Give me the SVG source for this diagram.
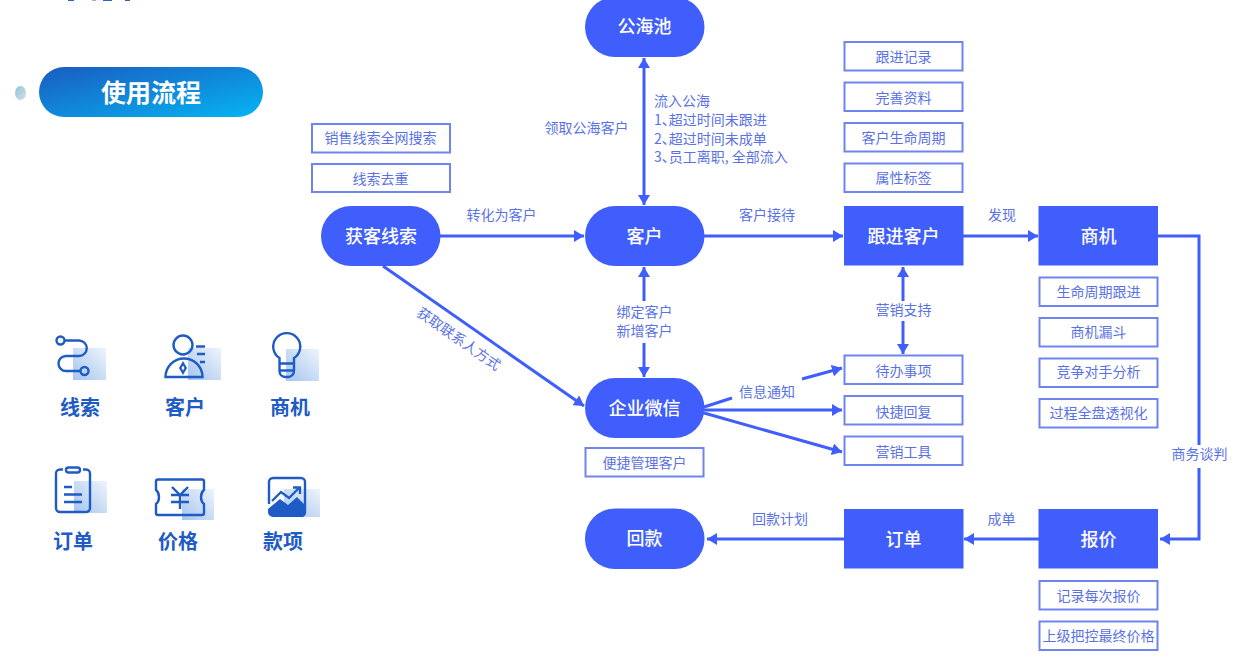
<svg xmlns="http://www.w3.org/2000/svg" width="1236" height="660" viewBox="0 0 1236 660">
<style>
text{font-family:"Noto Sans CJK SC","Noto Sans",sans-serif}
.n{fill:#3f5efb}
.nt{fill:#fff;font-size:18px;font-weight:500;text-anchor:middle}
.b{fill:#fff;stroke:#6f84ee;stroke-width:2}
.bt{fill:#5a72e4;font-size:14px;text-anchor:middle}
.l{fill:#5a72e4;font-size:14px;text-anchor:middle}
.s{text-anchor:start}
.p{font-feature-settings:"halt"}
.c{fill:none;stroke:#3f5efb;stroke-width:3}
.i{fill:none;stroke:#1f5bc4;stroke-width:2.400}
.il{fill:#1f5bc4;font-size:20px;font-weight:700;text-anchor:middle}
</style>
<defs>
<marker id="a" markerUnits="userSpaceOnUse" markerWidth="12" markerHeight="12" refX="10" refY="6" orient="auto-start-reverse"><path d="M0 0L10 6L0 12Z" fill="#3f5efb"/></marker>
<linearGradient id="pill" x1="0" y1="0" x2="1" y2="1"><stop offset="0" stop-color="#1a5cc0"/><stop offset="1" stop-color="#06b4f4"/></linearGradient>
<linearGradient id="dot" x1="0" y1="0" x2="1" y2="1"><stop offset="0" stop-color="#8cc8da"/><stop offset="1" stop-color="#d8dde4"/></linearGradient>
<linearGradient id="sq" x1="1" y1="0" x2="0" y2="1"><stop offset="0" stop-color="#eef4fc"/><stop offset="1" stop-color="#a6c5ef"/></linearGradient>
</defs>
<rect width="1236" height="660" fill="#fff"/>

<g id="clipped-heading" fill="#2f62cc"><rect x="68" y="0" width="6" height="1"/><rect x="92" y="0" width="4" height="1" opacity=".5"/><rect x="103" y="0" width="9" height="1"/><rect x="125" y="0" width="5" height="1"/></g>

<g id="title">
<ellipse cx="20.500" cy="93" rx="5.500" ry="7" fill="url(#dot)"/>
<rect x="39" y="67" width="224" height="50" rx="25" fill="url(#pill)"/>
<text x="151" y="102" fill="#fff" font-size="25" font-weight="700" text-anchor="middle">使用流程</text>
</g>

<g id="legend-xiansuo">
<rect x="73" y="348" width="33" height="32" fill="url(#sq)"/>
<circle class="i" cx="60.500" cy="340.500" r="4"/><circle class="i" cx="84.500" cy="371" r="4"/>
<path class="i" d="M64.500 340.500H79A7.750 7.750 0 0 1 79 356H66A7.500 7.500 0 0 0 66 371H80.500"/>
<text class="il" x="80" y="415">线索</text>
</g>
<g id="legend-kehu">
<rect x="188" y="348" width="33" height="32" fill="url(#sq)"/>
<circle class="i" cx="183" cy="345" r="9.500"/>
<path class="i" d="M165.500 377A18.500 18.500 0 0 1 202.500 377Z"/>
<path d="M183 361L187 368L183 375L179 368Z" fill="#1f5bc4"/><path d="M183 365.500L184.500 368L183 370.500L181.500 368Z" fill="#fff"/>
<path class="i" d="M196 346.500H205M197 354H205M200 362H205"/>
<text class="il" x="185" y="415">客户</text>
</g>
<g id="legend-shangji">
<rect x="286" y="349" width="33" height="32" fill="url(#sq)"/>
<path class="i" d="M279.500 358A13.500 13.500 0 1 1 294 358V371A6 6 0 0 1 288 377H285A6 6 0 0 1 279.500 371ZM279.500 363.500H294M279.500 370.500H294"/>
<text class="il" x="290" y="415">商机</text>
</g>
<g id="legend-dingdan">
<rect x="74" y="481" width="33" height="32" fill="url(#sq)"/>
<path class="i" d="M63 469.500H60A4 4 0 0 0 56 473.500V508A4 4 0 0 0 60 512H86A4 4 0 0 0 90 508V473.500A4 4 0 0 0 86 469.500H83"/>
<rect class="i" x="66" y="467.500" width="14" height="5" rx="2.500"/>
<path class="i" d="M64 487H72M64 494.500H82M64 502H82"/>
<text class="il" x="73" y="549">订单</text>
</g>
<g id="legend-jiage">
<rect x="182" y="489" width="32" height="31" fill="url(#sq)"/>
<path class="i" d="M158 479.500H202A2 2 0 0 1 204 481.500V490C200 493 200 501 204 504V513A2 2 0 0 1 202 515H158A2 2 0 0 1 156 513V504C160 501 160 493 156 490V481.500A2 2 0 0 1 158 479.500Z"/>
<path class="i" d="M172 487L180 495L188 487M171 495H189M171 502H189M180 495V509"/>
<text class="il" x="178" y="549">价格</text>
</g>
<g id="legend-kuanxiang">
<rect x="284" y="489" width="36" height="28" fill="url(#sq)"/>
<path class="i" d="M269 504V482A4 4 0 0 1 273 478H301A4 4 0 0 1 305 482V512A4 4 0 0 1 301 516"/>
<path d="M268 509L280 499L288 505L297 497L306 506V512A5 5 0 0 1 301 517H273A5 5 0 0 1 268 512Z" fill="#1f5bc4"/>
<path class="i" d="M272 501L281 492L289 498L299 488M293 487.500H300V494"/>
<text class="il" x="283" y="549">款项</text>
</g>

<g id="connectors">
<path class="c" marker-start="url(#a)" marker-end="url(#a)" d="M644 58V205"/>
<path class="c" marker-end="url(#a)" d="M440 236H584"/>
<path class="c" marker-end="url(#a)" d="M704 236H843"/>
<path class="c" marker-end="url(#a)" d="M963 236H1038"/>
<path class="c" d="M1158 236H1199V445"/>
<path class="c" marker-end="url(#a)" d="M1199 468V539H1160"/>
<path class="c" marker-end="url(#a)" d="M1039 539H964"/>
<path class="c" marker-end="url(#a)" d="M844 539H707"/>
<path class="c" marker-end="url(#a)" d="M383 266L584 406"/>
<path class="c" marker-end="url(#a)" d="M644 301V267"/>
<path class="c" marker-end="url(#a)" d="M644 343V377"/>
<path class="c" marker-end="url(#a)" d="M903 301V267"/>
<path class="c" marker-end="url(#a)" d="M903 321V354"/>
<path class="c" d="M704 407L732 398"/>
<path class="c" marker-end="url(#a)" d="M802 379L842 368"/>
<path class="c" marker-end="url(#a)" d="M704 410H842"/>
<path class="c" marker-end="url(#a)" d="M704 413L842 452"/>
</g>

<g id="connector-labels">
<text class="l" x="586.500" y="133">领取公海客户</text>
<text class="l s" x="654" y="106">流入公海</text>
<text class="l s p" x="654" y="125">1、超过时间未跟进</text>
<text class="l s p" x="654" y="144">2、超过时间未成单</text>
<text class="l s p" x="654" y="162">3、员工离职, 全部流入</text>
<text class="l" x="501.500" y="220">转化为客户</text>
<text class="l" x="767" y="220">客户接待</text>
<text class="l" x="1002" y="220">发现</text>
<text class="l" x="644.500" y="317">绑定客户</text>
<text class="l" x="644.500" y="336">新增客户</text>
<text class="l" x="903.500" y="315">营销支持</text>
<text class="l" x="767" y="397">信息通知</text>
<text class="l" x="1199.500" y="459">商务谈判</text>
<text class="l" x="780" y="524">回款计划</text>
<text class="l" x="1001.500" y="524">成单</text>
<text class="l" transform="translate(456 343) rotate(35)">获取联系人方式</text>
</g>

<g id="gonghaichi"><rect class="n" x="585" y="-3" width="119.500" height="60" rx="30"/><text class="nt" x="644.500" y="33">公海池</text></g>
<g id="kehu"><rect class="n" x="585" y="206" width="119.500" height="60" rx="30"/><text class="nt" x="644.500" y="242.500">客户</text></g>
<g id="huoke"><rect class="n" x="321" y="206" width="119.500" height="60" rx="30"/><text class="nt" x="381" y="242.500">获客线索</text></g>
<g id="qiwei"><rect class="n" x="585" y="378" width="119.500" height="60" rx="30"/><text class="nt" x="644.500" y="414.500">企业微信</text></g>
<g id="huikuan"><rect class="n" x="585" y="508.500" width="119.500" height="60.500" rx="30"/><text class="nt" x="644.500" y="545">回款</text></g>
<g id="genjin"><rect class="n" x="844" y="206" width="119.500" height="59.500"/><text class="nt" x="903.500" y="242.500">跟进客户</text></g>
<g id="shangji"><rect class="n" x="1038.500" y="206" width="119.500" height="59.500"/><text class="nt" x="1098.500" y="242.500">商机</text></g>
<g id="dingdan"><rect class="n" x="844" y="509" width="119.500" height="59.500"/><text class="nt" x="903.500" y="545.500">订单</text></g>
<g id="baojia"><rect class="n" x="1038.500" y="509" width="119.500" height="59.500"/><text class="nt" x="1098.500" y="545.500">报价</text></g>

<g id="box-xsqwss"><rect class="b" x="312" y="124" width="138" height="28.500"/><text class="bt" x="380.500" y="143">销售线索全网搜索</text></g>
<g id="box-xsqc"><rect class="b" x="312" y="164" width="138" height="28"/><text class="bt" x="380.500" y="184">线索去重</text></g>
<g id="box-gjjl"><rect class="b" x="844.500" y="42" width="118" height="28.500"/><text class="bt" x="903.500" y="62">跟进记录</text></g>
<g id="box-wszl"><rect class="b" x="844.500" y="82.500" width="118" height="28.500"/><text class="bt" x="903.500" y="103">完善资料</text></g>
<g id="box-khsmzq"><rect class="b" x="844.500" y="123" width="118" height="28.500"/><text class="bt" x="903.500" y="143">客户生命周期</text></g>
<g id="box-sxbq"><rect class="b" x="844.500" y="163.500" width="118" height="28.500"/><text class="bt" x="903.500" y="183">属性标签</text></g>
<g id="box-smzqgj"><rect class="b" x="1039.500" y="277.500" width="118" height="28.500"/><text class="bt" x="1098.500" y="297">生命周期跟进</text></g>
<g id="box-sjld"><rect class="b" x="1039.500" y="318" width="118" height="28.500"/><text class="bt" x="1098.500" y="337">商机漏斗</text></g>
<g id="box-jzds"><rect class="b" x="1039.500" y="358.500" width="118" height="28.500"/><text class="bt" x="1098.500" y="377">竞争对手分析</text></g>
<g id="box-gcqp"><rect class="b" x="1039.500" y="399" width="118" height="28.500"/><text class="bt" x="1098.500" y="418">过程全盘透视化</text></g>
<g id="box-dbsx"><rect class="b" x="844.500" y="355.500" width="118" height="28.500"/><text class="bt" x="903.500" y="376">待办事项</text></g>
<g id="box-kjhf"><rect class="b" x="844.500" y="396" width="118" height="28.500"/><text class="bt" x="903.500" y="417">快捷回复</text></g>
<g id="box-yxgj"><rect class="b" x="844.500" y="436.500" width="118" height="28.500"/><text class="bt" x="903.500" y="457">营销工具</text></g>
<g id="box-bjglkh"><rect class="b" x="585.500" y="448" width="118" height="28.500"/><text class="bt" x="644.500" y="468">便捷管理客户</text></g>
<g id="box-jlmcbj"><rect class="b" x="1039.500" y="581" width="118" height="28.500"/><text class="bt" x="1098.500" y="600.500">记录每次报价</text></g>
<g id="box-sjbk"><rect class="b" x="1039.500" y="621.500" width="118" height="28.500"/><text class="bt" x="1098.500" y="641">上级把控最终价格</text></g>
</svg>
